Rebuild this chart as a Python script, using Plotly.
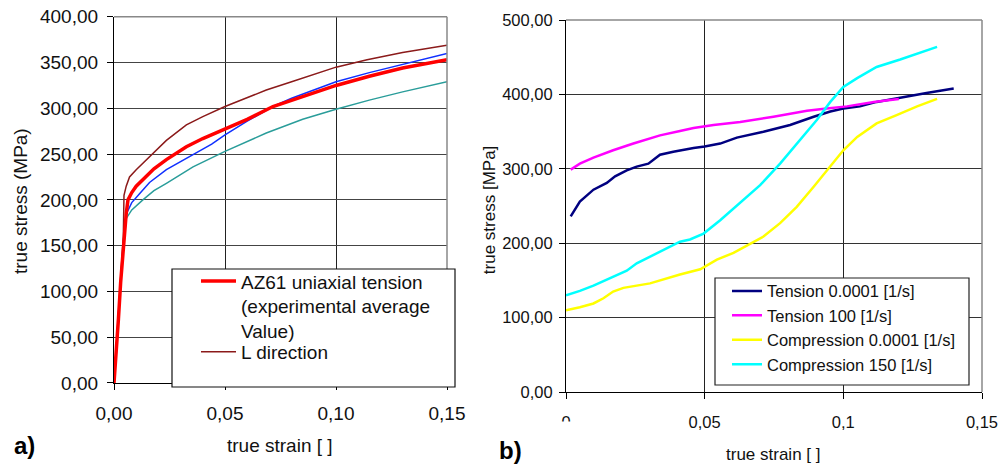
import plotly.graph_objects as go

FONT = "Liberation Sans, Arial, sans-serif"

# ---------- Left chart (a) data ----------
avg_strain = [0, 0.001, 0.002, 0.003, 0.0042, 0.0055, 0.0063, 0.008, 0.01, 0.013, 0.018, 0.0236,
              0.0326, 0.04, 0.05, 0.06, 0.0716, 0.08, 0.09, 0.1, 0.115, 0.13, 0.15]
avg_stress = [0, 30, 70, 110, 150, 185, 200, 208, 215, 222, 234, 244,
              258, 267, 277, 288, 302, 309, 317, 325, 335, 344, 353]

ldir_strain = [0, 0.001, 0.002, 0.003, 0.0042, 0.0045, 0.0055, 0.007, 0.01, 0.013, 0.018, 0.0236,
               0.0326, 0.04, 0.05, 0.06, 0.0686, 0.08, 0.09, 0.1, 0.114, 0.13, 0.15]
ldir_stress = [0, 35, 75, 115, 160, 205, 215, 225, 233, 240, 252, 265,
               282, 291, 302, 312, 320, 329, 337, 345, 353, 361, 369]

blue_strain = [0, 0.001, 0.002, 0.003, 0.0042, 0.0056, 0.008, 0.0116, 0.016, 0.0236, 0.03, 0.037,
               0.044, 0.05, 0.06, 0.0716, 0.08, 0.09, 0.1, 0.115, 0.13, 0.15]
blue_stress = [0, 30, 75, 115, 155, 185, 197, 207, 219, 233, 242, 251,
               261, 271, 286, 302, 311, 320, 329, 339, 348, 360]

teal_strain = [0, 0.001, 0.002, 0.003, 0.0042, 0.0056, 0.008, 0.013, 0.018, 0.0236, 0.0356, 0.05,
               0.0686, 0.085, 0.1, 0.115, 0.13, 0.15]
teal_stress = [0, 35, 75, 115, 150, 180, 189, 200, 210, 218, 236, 253,
               273, 288, 299, 309, 318, 329]

a_xticks = [0, 0.05, 0.10, 0.15]
a_xlabels = ["0,00", "0,05", "0,10", "0,15"]
a_yticks = [0, 50, 100, 150, 200, 250, 300, 350, 400]
a_ylabels = ["0,00", "50,00", "100,00", "150,00", "200,00", "250,00", "300,00", "350,00", "400,00"]

# ---------- Right chart (b) data ----------
t1_strain = [0.0017, 0.005, 0.0099, 0.0147, 0.0177, 0.0219, 0.0255, 0.0297, 0.0339, 0.0387, 0.046,
             0.05, 0.0556, 0.0616, 0.0712, 0.0808, 0.0893, 0.0953, 0.1, 0.106, 0.112, 0.1205, 0.130, 0.1398]
t1_stress = [236, 256, 272, 281, 290, 298, 303, 307, 319, 323, 328,
             330, 334, 342, 350, 359, 370, 377, 381, 384, 390, 396, 402, 408]

t2_strain = [0.0017, 0.005, 0.0099, 0.017, 0.0243, 0.0339, 0.0411, 0.046, 0.0532, 0.0628, 0.0748,
             0.0869, 0.094, 0.1013, 0.111, 0.12]
t2_stress = [299, 307, 315, 325, 334, 345, 351, 355, 359, 363, 370,
             378, 381, 384, 390, 394]

c1_strain = [0.0, 0.005, 0.0099, 0.0135, 0.017, 0.0207, 0.0303, 0.0411, 0.0484, 0.0544, 0.0604,
             0.065, 0.0712, 0.0772, 0.0832, 0.0893, 0.0953, 0.1, 0.105, 0.112, 0.119, 0.1266, 0.1338]
c1_stress = [110, 114, 119, 126, 135, 140, 146, 158, 165, 178, 187,
             196, 209, 227, 249, 276, 303, 325, 343, 361, 372, 384, 394]

c2_strain = [0.0, 0.005, 0.0099, 0.017, 0.0219, 0.0255, 0.0339, 0.0411, 0.0447, 0.0496, 0.0556,
             0.0628, 0.07, 0.0772, 0.0844, 0.0905, 0.0953, 0.1, 0.105, 0.112, 0.1205, 0.1338]
c2_stress = [130, 136, 143, 155, 163, 173, 189, 202, 205, 213, 231,
             254, 278, 307, 339, 366, 390, 410, 422, 437, 447, 464]

b_xticks = [0, 0.05, 0.1, 0.15]
b_xlabels = ["0", "0,05", "0,1", "0,15"]
b_yticks = [0, 100, 200, 300, 400, 500]
b_ylabels = ["0,00", "100,00", "200,00", "300,00", "400,00", "500,00"]

fig = go.Figure()

# left traces
fig.add_trace(go.Scatter(x=teal_strain, y=teal_stress, mode="lines", line=dict(color="#2a9d9a", width=1.5),
                         showlegend=False, xaxis="x", yaxis="y"))
fig.add_trace(go.Scatter(x=blue_strain, y=blue_stress, mode="lines", line=dict(color="#1030ff", width=1.5),
                         showlegend=False, xaxis="x", yaxis="y"))
fig.add_trace(go.Scatter(x=ldir_strain, y=ldir_stress, mode="lines", line=dict(color="#8b1a1a", width=1.5),
                         name="L direction", legend="legend3", xaxis="x", yaxis="y"))
fig.add_trace(go.Scatter(x=avg_strain, y=avg_stress, mode="lines", line=dict(color="#ff0000", width=3.5),
                         name="AZ61 uniaxial tension<br>(experimental average<br>Value)",
                         legend="legend", xaxis="x", yaxis="y"))

# right traces
b_series = [
    ("Tension 0.0001 [1/s]", t1_strain, t1_stress, "#000080"),
    ("Tension 100 [1/s]", t2_strain, t2_stress, "#ff00ff"),
    ("Compression 0.0001 [1/s]", c1_strain, c1_stress, "#ffff00"),
    ("Compression 150 [1/s]", c2_strain, c2_stress, "#00ffff"),
]
for i, (nm, xs, ys, col) in enumerate(b_series):
    fig.add_trace(go.Scatter(x=xs, y=ys, mode="lines", line=dict(color=col, width=2.5),
                             name=nm, legend="legend2", legendgroup=f"g{i}", legendrank=i + 1,
                             xaxis="x2", yaxis="y2"))

axis_common = dict(showline=True, linecolor="#000", linewidth=1.2, ticks="outside", ticklen=6,
                   tickcolor="#000", zeroline=False, showgrid=True, automargin=False)

leg_a_font = dict(size=19, family=FONT, color="#111")

fig.update_layout(
    width=1000, height=467, autosize=False,
    margin=dict(l=0, r=0, t=0, b=0, pad=0, autoexpand=False),
    paper_bgcolor="white", plot_bgcolor="white",
    font=dict(family=FONT, color="#111"),
    xaxis=dict(domain=[0.114, 0.447], range=[0, 0.15], tickvals=a_xticks, ticktext=a_xlabels,
               gridcolor="#222", gridwidth=1, anchor="y", tickfont=dict(size=19),
               ticklabelstandoff=7, **axis_common),
    yaxis=dict(domain=[0.18, 0.964], range=[0, 400], tickvals=a_yticks, ticktext=a_ylabels,
               gridcolor="#444", gridwidth=1, anchor="x", tickfont=dict(size=19),
               ticklabelstandoff=5, **axis_common),
    xaxis2=dict(domain=[0.566, 0.982], range=[0, 0.15], tickvals=b_xticks, ticktext=b_xlabels,
                gridcolor="#222", gridwidth=1, anchor="y2", tickfont=dict(size=16.5),
                ticklabelstandoff=9, **axis_common),
    yaxis2=dict(domain=[0.1606, 0.957], range=[0, 500], tickvals=b_yticks, ticktext=b_ylabels,
                gridcolor="#333", gridwidth=1, anchor="x2", tickfont=dict(size=16.5),
                ticklabelstandoff=3, **axis_common),
    legend=dict(x=0.196, y=0.4384, xanchor="left", yanchor="top", bgcolor="rgba(0,0,0,0)",
                borderwidth=0, font=leg_a_font, valign="top", itemwidth=35),
    legend3=dict(x=0.196, y=0.287, xanchor="left", yanchor="top", bgcolor="rgba(0,0,0,0)",
                 borderwidth=0, font=leg_a_font, itemwidth=35),
    legend2=dict(x=0.727, y=0.414, xanchor="left", yanchor="top", bgcolor="rgba(0,0,0,0)",
                 borderwidth=0, font=dict(size=16.5, family=FONT, color="#111"),
                 tracegroupgap=3, traceorder="normal"),
    shapes=[
        dict(type="line", xref="x domain", yref="y domain", x0=1, x1=1, y0=0, y1=1,
             line=dict(color="#888", width=1.5), layer="above"),
        dict(type="line", xref="x domain", yref="y domain", x0=0, x1=1, y0=1, y1=1,
             line=dict(color="#888", width=1.5), layer="above"),
        dict(type="line", xref="x2 domain", yref="y2 domain", x0=1, x1=1, y0=0, y1=1,
             line=dict(color="#888", width=1.5), layer="above"),
        dict(type="line", xref="x2 domain", yref="y2 domain", x0=0, x1=1, y0=1, y1=1,
             line=dict(color="#888", width=1.5), layer="above"),
        dict(type="rect", xref="paper", yref="paper", x0=0.172, x1=0.455, y0=0.1713, y1=0.424,
             fillcolor="white", line=dict(color="#111", width=1.2), layer="above"),
        dict(type="rect", xref="paper", yref="paper", x0=0.715, x1=0.969, y0=0.1756, y1=0.4047,
             fillcolor="white", line=dict(color="#222", width=1.2), layer="above"),
        # the lower half of the "0" label is hidden in the original
        dict(type="rect", xref="paper", yref="paper", x0=0.556, x1=0.578, y0=(467 - 433) / 467,
             y1=(467 - 421.5) / 467, fillcolor="white", line=dict(width=0), layer="above"),
    ],
    annotations=[
        dict(text="true stress (MPa)", x=0.021, y=0.5696, xref="paper", yref="paper",
             textangle=-90, showarrow=False, font=dict(size=19), xanchor="center", yanchor="middle"),
        dict(text="true strain [ ]", x=0.28, y=0.045, xref="paper", yref="paper",
             showarrow=False, font=dict(size=19), xanchor="center", yanchor="middle"),
        dict(text="<b>a)</b>", x=0.024, y=0.047, xref="paper", yref="paper",
             showarrow=False, font=dict(size=24, color="#000"), xanchor="center", yanchor="middle"),
        dict(text="true stress [MPa]", x=0.489, y=0.55, xref="paper", yref="paper",
             textangle=-90, showarrow=False, font=dict(size=17), xanchor="center", yanchor="middle"),
        dict(text="true strain [ ]", x=0.773, y=0.026, xref="paper", yref="paper",
             showarrow=False, font=dict(size=17), xanchor="center", yanchor="middle"),
        dict(text="<b>b)</b>", x=0.51, y=0.036, xref="paper", yref="paper",
             showarrow=False, font=dict(size=24, color="#000"), xanchor="center", yanchor="middle"),
    ],
)

fig.write_html("out.html", config={"displayModeBar": False},
               post_script="document.body.style.margin='0';document.body.style.overflow='hidden';")
